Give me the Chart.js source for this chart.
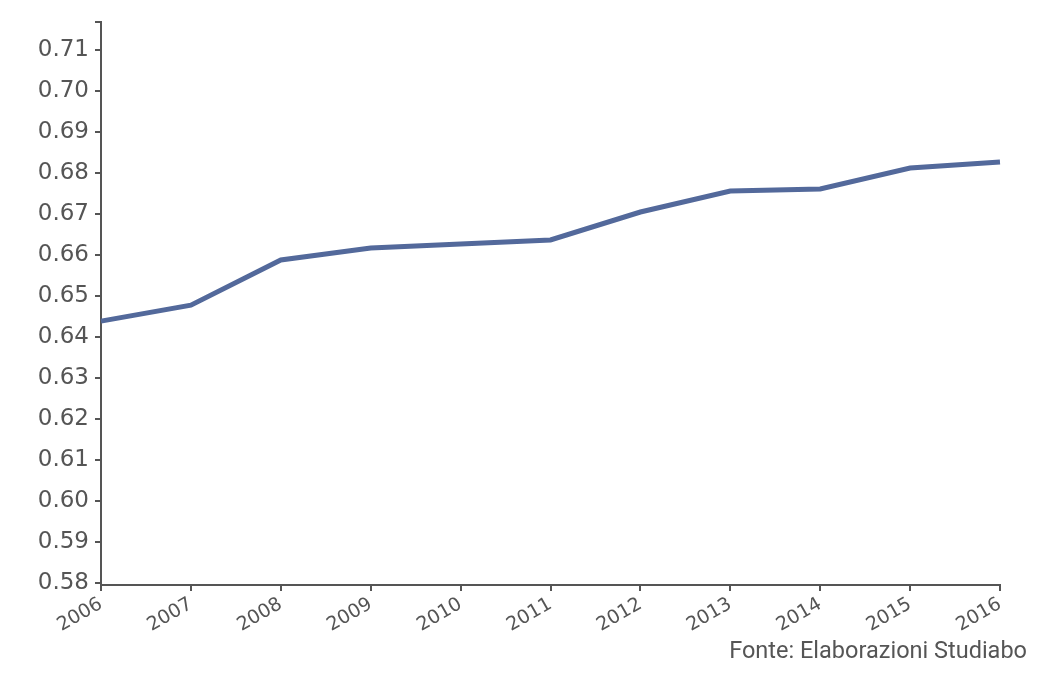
<!DOCTYPE html>
<html>
<head>
<meta charset="utf-8">
<script src="https://cdn.jsdelivr.net/npm/chart.js@4.4.1/dist/chart.umd.min.js"></script>
<style>
  html, body { margin: 0; padding: 0; background: #fff; }
  #wrap { position: relative; width: 1054px; height: 691px; }
  #fonte {
    position: absolute; right: 27px; top: 636px;
    font-family: Roboto, sans-serif; font-size: 23.5px; color: #555;
  }
</style>
</head>
<body>
<div id="wrap">
  <canvas id="chart" width="1054" height="691"></canvas>
  <div id="fonte">Fonte: Elaborazioni Studiabo</div>
</div>
<script>
// dati
const anni = ['2006', '2007', '2008', '2009', '2010', '2011', '2012', '2013', '2014', '2015', '2016'];
const valori = [0.6439, 0.6478, 0.6588, 0.6617, 0.6627, 0.6637, 0.6705, 0.6756, 0.6761, 0.6812, 0.6827];
const yTicks = [0.58, 0.59, 0.60, 0.61, 0.62, 0.63, 0.64, 0.65, 0.66, 0.67, 0.68, 0.69, 0.70, 0.71];

const axisColor = '#555';
const textColor = '#555';

// piccolo tick in cima all'asse y (stile d3)
const outerTick = {
    id: 'outerTick',
    afterDraw(chart) {
        const ctx = chart.ctx;
        const y = chart.scales.y;
        ctx.save();
        ctx.strokeStyle = axisColor;
        ctx.lineWidth = 2;
        ctx.beginPath();
        ctx.moveTo(y.right - 6, y.top);
        ctx.lineTo(y.right, y.top);
        ctx.stroke();
        ctx.restore();
    }
};

new Chart(document.getElementById('chart'), {
    type: 'line',
    data: {
        labels: anni,
        datasets: [{
            data: valori,
            borderColor: '#53699b',
            borderWidth: 5,
            pointRadius: 0,
            tension: 0,
            fill: false
        }]
    },
    options: {
        responsive: false,
        animation: false,
        layout: { padding: { top: 22, right: 54, left: 0, bottom: 0 } },
        plugins: { legend: { display: false }, tooltip: { enabled: false } },
        scales: {
            x: {
                offset: false,
                grid: { display: true, drawOnChartArea: false, drawTicks: true, tickLength: 6, color: axisColor, lineWidth: 2 },
                border: { display: true, color: axisColor, width: 2 },
                ticks: {
                    color: textColor,
                    font: { family: 'DejaVu Sans', size: 19 },
                    minRotation: 30, maxRotation: 30, padding: 2,
                    autoSkip: false
                },
                afterFit(scale) { scale.height = 106; }
            },
            y: {
                min: 0.5796,
                max: 0.7168,
                afterBuildTicks(scale) { scale.ticks = yTicks.map(v => ({ value: v })); },
                grid: { display: true, drawOnChartArea: false, drawTicks: true, tickLength: 6, color: axisColor, lineWidth: 2 },
                border: { display: true, color: axisColor, width: 2 },
                ticks: {
                    color: textColor,
                    font: { family: 'DejaVu Sans', size: 23 },
                    padding: 6,
                    callback: v => v.toFixed(2)
                },
                afterFit(scale) { scale.width = 101; }
            }
        }
    },
    plugins: [outerTick]
});
</script>
</body>
</html>
